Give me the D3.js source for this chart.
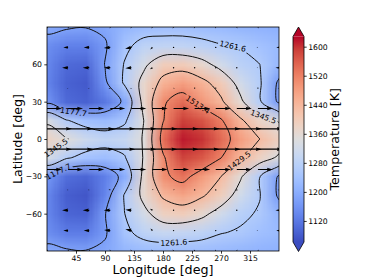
<!DOCTYPE html>
<html>
<head>
<meta charset="utf-8">
<script src="https://cdn.jsdelivr.net/npm/d3@7"></script>
<style>
  body { margin: 0; background: #fff; }
  svg text { font-family: "DejaVu Sans", sans-serif; fill: #000; }
</style>
</head>
<body>
<svg id="chart" width="374" height="280"></svg>
<script>
/** temperature field [K], rows from north to south */
const tempLons = [0, 30, 60, 90, 120, 150, 180, 210, 240, 270, 300, 330, 360];
const tempLats = [90, 75, 60, 45, 30, 15, 0, -15, -30, -45, -60, -75, -90];
const temperature = [
  [1195, 1185, 1180, 1190, 1215, 1230, 1235, 1235, 1230, 1225, 1215, 1210, 1205],
  [1150, 1130, 1130, 1170, 1245, 1285, 1290, 1290, 1280, 1265, 1258, 1240, 1225],
  [1140, 1100, 1095, 1180, 1265, 1330, 1395, 1400, 1370, 1320, 1280, 1262, 1220],
  [1135, 1090, 1080, 1165, 1270, 1370, 1450, 1480, 1450, 1400, 1320, 1270, 1165],
  [1160, 1100, 1090, 1120, 1190, 1370, 1505, 1545, 1490, 1440, 1360, 1270, 1165],
  [1335, 1265, 1235, 1225, 1250, 1345, 1510, 1590, 1570, 1520, 1440, 1375, 1340],
  [1380, 1350, 1310, 1290, 1300, 1350, 1540, 1615, 1600, 1545, 1480, 1430, 1385],
  [1330, 1270, 1240, 1230, 1255, 1350, 1505, 1585, 1565, 1515, 1440, 1380, 1335],
  [1165, 1105, 1095, 1130, 1200, 1365, 1500, 1535, 1485, 1430, 1355, 1265, 1170],
  [1140, 1085, 1075, 1140, 1265, 1365, 1440, 1470, 1440, 1390, 1315, 1265, 1165],
  [1140, 1095, 1090, 1175, 1260, 1325, 1385, 1395, 1365, 1315, 1275, 1255, 1215],
  [1150, 1125, 1125, 1170, 1245, 1285, 1300, 1295, 1285, 1265, 1255, 1235, 1225],
  [1195, 1185, 1180, 1190, 1215, 1225, 1230, 1230, 1228, 1222, 1215, 1210, 1205]
];

/** wind field [m/s], rows from north to south */
const windLons = [0, 32.7, 65.5, 98.2, 130.9, 163.6, 196.4, 229.1, 261.8, 294.5, 327.3, 360];
const windLats = [90, 73.6, 57.3, 40.9, 24.5, 8.2, -8.2, -24.5, -40.9, -57.3, -73.6, -90];
const windU = [
  [200, 150, 100, -100, -150, -200, -200, -150, -100, 100, 150, 200],
  [-550, -950, -1100, -1300, -1250, -450, -150, -100, -100, -150, -300, -550],
  [-700, -1200, -1300, -1300, -1200, -500, -150, -100, -100, -150, -250, -700],
  [-300, -250, -300, -350, -200, 200, 250, 150, 100, 100, 100, -300],
  [3000, 3000, 3000, 3000, 3000, 3050, 3100, 3100, 3050, 3000, 3000, 3000],
  [5000, 5000, 5000, 5000, 5000, 5000, 5000, 5000, 5000, 5000, 5000, 5000],
  [5000, 5000, 5000, 5000, 5000, 5000, 5000, 5000, 5000, 5000, 5000, 5000],
  [3000, 3000, 3000, 3000, 3000, 3050, 3100, 3100, 3050, 3000, 3000, 3000],
  [-300, -250, -300, -350, -200, 200, 250, 150, 100, 100, 100, -300],
  [-700, -1200, -1300, -1300, -1200, -500, -150, -100, -100, -150, -250, -700],
  [-550, -950, -1100, -1250, -1200, -400, -150, -100, -100, -150, -300, -550],
  [200, 150, 100, -100, -150, -200, -200, -150, -100, 100, 150, 200]
];
const windV = [
  [-300, -300, -300, -300, -300, -300, -300, -300, -300, -300, -300, -300],
  [0, 0, 0, -100, -250, -400, -100, 0, 0, 0, 0, 0],
  [0, 0, 0, 0, -100, -300, -150, -50, 0, 0, 50, 0],
  [0, 0, 0, -100, -200, -200, -100, 0, 0, 0, 0, 0],
  [0, 0, 0, 0, 0, 0, 0, 0, 0, 0, 0, 0],
  [0, 0, 0, 0, 0, 0, 0, 0, 0, 0, 0, 0],
  [0, 0, 0, 0, 0, 0, 0, 0, 0, 0, 0, 0],
  [0, 0, 0, 0, 0, 0, 0, 0, 0, 0, 0, 0],
  [0, 0, 0, 100, 200, 200, 100, 0, 0, 0, 0, 0],
  [0, 0, 0, 0, 100, 300, 150, 50, 0, 0, -50, 0],
  [0, 0, 0, 100, 250, 400, 100, 0, 0, 0, 0, 0],
  [300, 300, 300, 300, 300, 300, 300, 300, 300, 300, 300, 300]
];

const contourLevels = [1177.7, 1261.6, 1345.5, 1429.5, 1513.4];
const lonTicks = [45, 90, 135, 180, 225, 270, 315];
const latTicks = [-60, -30, 0, 30, 60];
const cbarTicks = [1120, 1200, 1280, 1360, 1440, 1520, 1600];
const tempRange = [1062, 1628];

/** where the inline contour labels sit (approx. pixel spots) */
const labelSpots = [
  { level: 1177.7, x: 74, y: 110 },
  { level: 1177.7, x: 58, y: 170 },
  { level: 1261.6, x: 232, y: 50 },
  { level: 1261.6, x: 174, y: 243 },
  { level: 1345.5, x: 265, y: 113 },
  { level: 1345.5, x: 58, y: 151 },
  { level: 1513.4, x: 202, y: 98 },
  { level: 1429.5, x: 240, y: 162 }
];

/** matplotlib coolwarm */
const coolwarmStops = ['#3b4cc0', '#4d68d7', '#6282ea', '#779af7', '#8db0fe', '#a3c2ff',
  '#b8d0f9', '#ccd9ee', '#dddddd', '#ecd3c5', '#f5c4ad', '#f7b194', '#f49a7b',
  '#ec7f63', '#de604d', '#cb3e38', '#b40426'];
const coolwarm = d3.piecewise(d3.interpolateRgb, coolwarmStops);
const norm = d3.scaleLinear().domain(tempRange).range([0, 1]).clamp(true);
const colorOf = t => coolwarm(norm(t));

const svg = d3.select('#chart');
const plot = { left: 47, right: 279, top: 27, bottom: 251 };
const x = d3.scaleLinear().domain([0, 360]).range([plot.left, plot.right]);
const y = d3.scaleLinear().domain([-90, 90]).range([plot.bottom, plot.top]);

const defs = svg.append('defs');
defs.append('clipPath').attr('id', 'plotClip')
  .append('rect')
  .attr('x', plot.left).attr('y', plot.top)
  .attr('width', plot.right - plot.left).attr('height', plot.bottom - plot.top);

/** heat map: small raster scaled up by the browser */
const nx = tempLons.length, ny = tempLats.length;
const dLon = tempLons[1] - tempLons[0], dLat = tempLats[0] - tempLats[1];
const cv = document.createElement('canvas');
cv.width = nx; cv.height = ny;
const ctx = cv.getContext('2d');
const img = ctx.createImageData(nx, ny);
temperature.forEach((row, j) => row.forEach((t, i) => {
  const c = d3.rgb(colorOf(t));
  const k = 4 * (j * nx + i);
  img.data[k] = c.r; img.data[k + 1] = c.g; img.data[k + 2] = c.b; img.data[k + 3] = 255;
}));
ctx.putImageData(img, 0, 0);

const x0 = x(tempLons[0] - dLon / 2), x1 = x(tempLons[nx - 1] + dLon / 2);
const y0 = y(tempLats[0] + dLat / 2), y1 = y(tempLats[ny - 1] - dLat / 2);
svg.append('g').attr('clip-path', 'url(#plotClip)')
  .append('image')
  .attr('href', cv.toDataURL())
  .attr('x', x0).attr('y', y0)
  .attr('width', x1 - x0).attr('height', y1 - y0)
  .attr('preserveAspectRatio', 'none');

/** contours */
const contours = d3.contours().size([nx, ny]).thresholds(contourLevels)(temperature.flat());
const toPx = ([gx, gy]) => [x(tempLons[0] + (gx - 0.5) * dLon), y(tempLats[0] - (gy - 0.5) * dLat)];
const ringLine = d3.line().curve(d3.curveCatmullRomClosed.alpha(0.5));

const mask = defs.append('mask').attr('id', 'labelMask')
  .attr('maskUnits', 'userSpaceOnUse')
  .attr('x', 0).attr('y', 0).attr('width', 374).attr('height', 280);
mask.append('rect').attr('width', 374).attr('height', 280).attr('fill', '#fff');

const contourG = svg.append('g').attr('clip-path', 'url(#plotClip)')
  .append('g').attr('mask', 'url(#labelMask)');

const levelPaths = {};
contours.forEach(c => {
  const d = c.coordinates.map(poly => poly.map(ring =>
    ringLine(ring.slice(0, -1).map(toPx))).join('')).join('');
  levelPaths[c.value] = contourG.append('path')
    .attr('d', d)
    .attr('fill', 'none')
    .attr('stroke', '#111')
    .attr('stroke-width', 1);
});

function nearestOnPath(node, px, py) {
  const L = node.getTotalLength();
  let best = 0, bd = Infinity;
  for (let s = 0; s <= L; s += 1) {
    const p = node.getPointAtLength(s);
    const dd = (p.x - px) ** 2 + (p.y - py) ** 2;
    if (dd < bd) { bd = dd; best = s; }
  }
  const p = node.getPointAtLength(best);
  const a = node.getPointAtLength(Math.max(0, best - 5));
  const b = node.getPointAtLength(Math.min(L, best + 5));
  let ang = Math.atan2(b.y - a.y, b.x - a.x) * 180 / Math.PI;
  if (ang > 90) ang -= 180;
  if (ang < -90) ang += 180;
  return { x: p.x, y: p.y, ang: ang };
}

const labelG = svg.append('g');
labelSpots.forEach(s => {
  const path = levelPaths[s.level];
  if (!path) return;
  const pos = nearestOnPath(path.node(), s.x, s.y);
  const t = labelG.append('text')
    .attr('transform', `translate(${pos.x},${pos.y}) rotate(${pos.ang})`)
    .attr('text-anchor', 'middle')
    .attr('dy', '0.35em')
    .style('font-size', '7.7px')
    .text(s.level.toFixed(1));
  const w = t.node().getComputedTextLength() + 3;
  mask.append('rect')
    .attr('x', -w / 2).attr('y', -4)
    .attr('width', w).attr('height', 8)
    .attr('fill', '#000')
    .attr('transform', `translate(${pos.x},${pos.y}) rotate(${pos.ang})`);
});

/** quiver */
const windScale = 0.005;  // px per m/s
const shaftW = 1.2, headW = 3.6, headL = 6, headAxisL = 5.4;
const quiverG = svg.append('g').attr('clip-path', 'url(#plotClip)');
windLats.forEach((lat, j) => windLons.forEach((lon, i) => {
  const u = windU[j][i], v = windV[j][i];
  const len = Math.hypot(u, v) * windScale;
  const px = x(lon), py = y(lat);
  if (len < shaftW) {
    quiverG.append('circle').attr('cx', px).attr('cy', py).attr('r', 0.7).attr('fill', '#000');
    return;
  }
  const s = len < headL ? len / headL : 1;
  const hl = headL * s, hal = headAxisL * s, hw = headW / 2 * s, sw = shaftW / 2;
  const pts = [[0, -sw], [len - hal, -sw], [len - hl, -hw], [len, 0], [len - hl, hw], [len - hal, sw], [0, sw]];
  const ang = Math.atan2(-v, u) * 180 / Math.PI;
  quiverG.append('path')
    .attr('d', 'M' + pts.map(p => p.join(',')).join('L') + 'Z')
    .attr('fill', '#000')
    .attr('transform', `translate(${px},${py}) rotate(${ang})`);
}));

/** axes */
const fmtMinus = d => d < 0 ? '\u2212' + Math.abs(d) : String(d);
const xAxis = svg.append('g')
  .attr('transform', `translate(0,${plot.bottom})`)
  .call(d3.axisBottom(x).tickValues(lonTicks).tickSize(2.7).tickPadding(2).tickFormat(d3.format('d')));
const yAxis = svg.append('g')
  .attr('transform', `translate(${plot.left},0)`)
  .call(d3.axisLeft(y).tickValues(latTicks).tickSize(2.7).tickPadding(2.3).tickFormat(fmtMinus));
[xAxis, yAxis].forEach(a => {
  a.select('.domain').remove();
  a.selectAll('text').style('font-size', '7.7px').style('font-family', '"DejaVu Sans", sans-serif');
  a.selectAll('line').attr('stroke', '#000').attr('stroke-width', 0.8);
});

svg.append('rect')
  .attr('x', plot.left).attr('y', plot.top)
  .attr('width', plot.right - plot.left).attr('height', plot.bottom - plot.top)
  .attr('fill', 'none').attr('stroke', '#000').attr('stroke-width', 0.8);

svg.append('text')
  .attr('x', (plot.left + plot.right) / 2).attr('y', 274)
  .attr('text-anchor', 'middle')
  .style('font-size', '12.7px')
  .text('Longitude [deg]');
svg.append('text')
  .attr('transform', `translate(22,${(plot.top + plot.bottom) / 2}) rotate(-90)`)
  .attr('text-anchor', 'middle')
  .style('font-size', '12.7px')
  .text('Latitude [deg]');

/** colorbar */
const cb = { left: 293, width: 11, top: 36.5, bottom: 242, tipTop: 27, tipBottom: 251.5 };
const cScale = d3.scaleLinear().domain(tempRange).range([cb.bottom, cb.top]);
const grad = defs.append('linearGradient').attr('id', 'cbGrad')
  .attr('x1', 0).attr('y1', 1).attr('x2', 0).attr('y2', 0);
d3.range(0, 1.0001, 1 / 32).forEach(f => {
  grad.append('stop').attr('offset', f).attr('stop-color', coolwarm(f));
});
svg.append('rect')
  .attr('x', cb.left).attr('y', cb.top)
  .attr('width', cb.width).attr('height', cb.bottom - cb.top)
  .attr('fill', 'url(#cbGrad)');
svg.append('path')
  .attr('d', `M${cb.left},${cb.top}L${cb.left + cb.width / 2},${cb.tipTop}L${cb.left + cb.width},${cb.top}Z`)
  .attr('fill', coolwarm(1));
svg.append('path')
  .attr('d', `M${cb.left},${cb.bottom}L${cb.left + cb.width / 2},${cb.tipBottom}L${cb.left + cb.width},${cb.bottom}Z`)
  .attr('fill', coolwarm(0));
svg.append('path')
  .attr('d', `M${cb.left},${cb.top}L${cb.left + cb.width / 2},${cb.tipTop}L${cb.left + cb.width},${cb.top}` +
    `L${cb.left + cb.width},${cb.bottom}L${cb.left + cb.width / 2},${cb.tipBottom}L${cb.left},${cb.bottom}Z`)
  .attr('fill', 'none').attr('stroke', '#000').attr('stroke-width', 0.8);

const cAxis = svg.append('g')
  .attr('transform', `translate(${cb.left + cb.width},0)`)
  .call(d3.axisRight(cScale).tickValues(cbarTicks).tickSize(2.7).tickPadding(1.5).tickFormat(d3.format('d')));
cAxis.select('.domain').remove();
cAxis.selectAll('text').style('font-size', '7.7px').style('font-family', '"DejaVu Sans", sans-serif');
cAxis.selectAll('line').attr('stroke', '#000').attr('stroke-width', 0.8);

svg.append('text')
  .attr('transform', `translate(339,${(cb.tipTop + cb.tipBottom) / 2}) rotate(-90)`)
  .attr('text-anchor', 'middle')
  .style('font-size', '12.7px')
  .text('Temperature [K]');
</script>
</body>
</html>
